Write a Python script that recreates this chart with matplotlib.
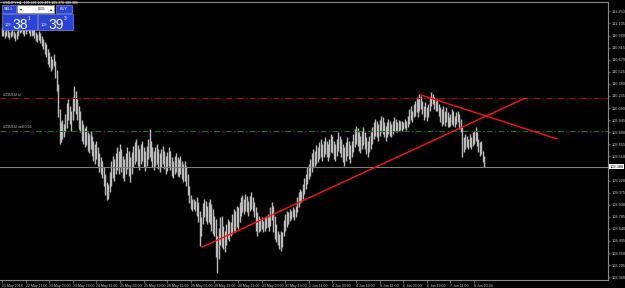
import matplotlib
matplotlib.use('Agg')
import matplotlib.pyplot as plt
from matplotlib.patches import Rectangle

plt.rcParams['font.family'] = ['Liberation Sans', 'DejaVu Sans']

# ---------------- data (USDJPY H1) ----------------
highs = [
    111.06, 111.04, 111.02, 111.05, 111.03, 111.00, 111.02, 111.04, 111.01, 110.99,
    111.02, 111.06, 111.08, 111.10, 111.07, 111.05, 111.09, 111.12, 111.10, 111.06,
    111.04, 111.08, 111.05, 111.00, 110.98, 111.02, 110.99, 110.95, 110.92, 110.88,
    110.86, 110.80, 110.76, 110.72, 110.68, 110.74, 110.66, 110.55, 110.38, 110.08,
    109.92, 109.95, 109.90, 110.02, 110.15, 110.20, 110.12, 110.05, 110.22, 110.35,
    110.30, 110.20, 110.12, 110.05, 109.95, 109.90, 109.85, 109.88, 109.80, 109.78,
    109.82, 109.75, 109.70, 109.66, 109.70, 109.62, 109.55, 109.50, 109.45, 109.38,
    109.30, 109.20, 109.18, 109.32, 109.45, 109.52, 109.48, 109.55, 109.62, 109.58,
    109.66, 109.60, 109.52, 109.48, 109.55, 109.62, 109.58, 109.50, 109.56, 109.64,
    109.68, 109.72, 109.65, 109.60, 109.66, 109.70, 109.62, 109.58, 109.64, 109.72,
    109.84, 109.70, 109.62, 109.58, 109.62, 109.66, 109.60, 109.55, 109.60, 109.64,
    109.58, 109.52, 109.56, 109.62, 109.58, 109.50, 109.46, 109.52, 109.55, 109.50,
    109.48, 109.52, 109.46, 109.42, 109.45, 109.40, 109.30, 109.15, 109.05, 109.00,
    109.00, 108.98, 109.02, 108.96, 108.85, 108.78, 108.95, 109.00, 108.98, 108.92,
    108.96, 109.00, 108.94, 108.88, 108.80, 108.76, 108.55, 108.65, 108.78, 108.80,
    108.68, 108.62, 108.70, 108.76, 108.74, 108.72, 108.82, 108.88, 108.86, 108.92,
    108.90, 108.96, 109.02, 109.05, 109.00, 109.06, 109.03, 108.98, 109.04, 109.08,
    109.02, 108.96, 108.90, 108.84, 108.80, 108.76, 108.78, 108.74, 108.78, 108.80,
    108.82, 108.78, 108.90, 108.96, 108.92, 108.80, 108.70, 108.62, 108.58, 108.62,
    108.60, 108.75, 108.82, 108.86, 108.84, 108.88, 108.86, 108.90, 108.88, 108.92,
    109.02, 109.08, 109.12, 109.10, 109.18, 109.25, 109.30, 109.38, 109.42, 109.48,
    109.55, 109.60, 109.58, 109.65, 109.62, 109.68, 109.72, 109.66, 109.70, 109.74,
    109.70, 109.66, 109.72, 109.78, 109.75, 109.70, 109.66, 109.72, 109.80, 109.76,
    109.72, 109.66, 109.62, 109.68, 109.74, 109.70, 109.65, 109.70, 109.78, 109.84,
    109.88, 109.85, 109.80, 109.76, 109.82, 109.86, 109.80, 109.74, 109.70, 109.76,
    109.80, 109.86, 109.92, 109.96, 109.94, 109.90, 109.95, 110.00, 109.98, 109.92,
    109.88, 109.92, 109.96, 109.94, 109.90, 109.94, 109.98, 109.96, 109.92, 109.95,
    109.93, 109.94, 109.92, 109.96, 109.94, 110.00, 110.08, 110.12, 110.06, 110.14,
    110.18, 110.22, 110.20, 110.26, 110.24, 110.18, 110.12, 110.16, 110.10, 110.14,
    110.22, 110.28, 110.26, 110.22, 110.18, 110.20, 110.14, 110.10, 110.08, 110.12,
    110.06, 110.10, 110.04, 109.98, 110.02, 110.08, 110.05, 110.00, 110.04, 110.06,
    110.02, 109.96, 109.86, 109.74, 109.78, 109.76, 109.72, 109.78, 109.74, 109.80,
    109.82, 109.86, 109.80, 109.72, 109.68, 109.70, 109.58, 109.52,
]
lows = [
    110.96, 110.95, 110.93, 110.96, 110.94, 110.92, 110.94, 110.95, 110.93, 110.90,
    110.92, 110.96, 110.99, 111.00, 110.98, 110.95, 110.98, 111.02, 110.99, 110.96,
    110.95, 110.97, 110.93, 110.90, 110.88, 110.91, 110.87, 110.84, 110.80, 110.74,
    110.70, 110.62, 110.58, 110.54, 110.56, 110.60, 110.45, 110.30, 109.98, 109.66,
    109.68, 109.72, 109.74, 109.80, 109.85, 109.95, 109.90, 109.82, 109.95, 110.05,
    110.02, 109.95, 109.84, 109.80, 109.70, 109.66, 109.62, 109.65, 109.58, 109.55,
    109.60, 109.52, 109.45, 109.42, 109.48, 109.40, 109.32, 109.30, 109.25, 109.15,
    109.05, 108.99, 109.00, 109.08, 109.15, 109.25, 109.22, 109.30, 109.35, 109.30,
    109.38, 109.32, 109.25, 109.22, 109.30, 109.36, 109.28, 109.20, 109.30, 109.38,
    109.42, 109.45, 109.40, 109.35, 109.42, 109.46, 109.38, 109.34, 109.40, 109.48,
    109.50, 109.45, 109.38, 109.35, 109.40, 109.42, 109.36, 109.32, 109.38, 109.42,
    109.36, 109.30, 109.33, 109.40, 109.35, 109.28, 109.25, 109.30, 109.32, 109.28,
    109.26, 109.30, 109.24, 109.20, 109.22, 109.15, 109.05, 108.95, 108.88, 108.85,
    108.88, 108.86, 108.80, 108.72, 108.43, 108.55, 108.70, 108.78, 108.74, 108.70,
    108.72, 108.70, 108.62, 108.58, 108.55, 108.30, 108.11, 108.28, 108.45, 108.42,
    108.40, 108.36, 108.45, 108.52, 108.50, 108.55, 108.58, 108.62, 108.60, 108.66,
    108.64, 108.72, 108.80, 108.84, 108.82, 108.86, 108.84, 108.80, 108.86, 108.88,
    108.85, 108.78, 108.62, 108.55, 108.60, 108.62, 108.64, 108.60, 108.62, 108.65,
    108.66, 108.62, 108.68, 108.75, 108.60, 108.52, 108.48, 108.45, 108.40, 108.38,
    108.42, 108.55, 108.62, 108.66, 108.70, 108.74, 108.76, 108.78, 108.75, 108.78,
    108.84, 108.90, 108.95, 108.96, 109.00, 109.06, 109.12, 109.18, 109.24, 109.28,
    109.32, 109.38, 109.40, 109.42, 109.44, 109.48, 109.50, 109.46, 109.50, 109.54,
    109.50, 109.45, 109.50, 109.56, 109.55, 109.48, 109.46, 109.52, 109.58, 109.55,
    109.50, 109.44, 109.40, 109.46, 109.52, 109.48, 109.43, 109.50, 109.56, 109.62,
    109.66, 109.64, 109.58, 109.55, 109.60, 109.65, 109.60, 109.54, 109.50, 109.56,
    109.60, 109.66, 109.72, 109.76, 109.74, 109.70, 109.75, 109.80, 109.78, 109.74,
    109.70, 109.74, 109.78, 109.76, 109.74, 109.78, 109.82, 109.80, 109.80, 109.82,
    109.83, 109.82, 109.84, 109.85, 109.83, 109.86, 109.90, 109.95, 109.92, 109.98,
    110.00, 110.04, 109.98, 110.06, 110.08, 110.02, 109.95, 109.98, 109.94, 109.98,
    110.05, 110.12, 110.14, 110.08, 110.05, 110.06, 110.00, 109.92, 109.88, 109.90,
    109.88, 109.92, 109.86, 109.86, 109.88, 109.90, 109.88, 109.86, 109.90, 109.92,
    109.84, 109.80, 109.50, 109.56, 109.60, 109.62, 109.60, 109.62, 109.60, 109.64,
    109.66, 109.70, 109.64, 109.56, 109.52, 109.54, 109.44, 109.38,
]

x_labels = ['21 May 2018', '22 May 11:00', '23 May 03:00', '23 May 19:00', '24 May 11:00',
            '25 May 03:00', '25 May 19:00', '28 May 11:00', '29 May 03:00', '29 May 19:00',
            '30 May 11:00', '31 May 03:00', '31 May 19:00', '1 Jun 11:00', '4 Jun 03:00',
            '4 Jun 19:00', '5 Jun 11:00', '6 Jun 03:00', '6 Jun 19:00', '7 Jun 11:00',
            '8 Jun 03:00']
x_label_bars = [0, 16, 32, 48, 64, 80, 96, 112, 128, 144, 160, 176, 192, 208, 224,
                240, 256, 272, 288, 304, 320]

y_ticks = [111.250, 111.105, 110.960, 110.815, 110.670, 110.525, 110.380, 110.235,
           110.090, 109.945, 109.800, 109.655, 109.510, 109.365, 109.220, 109.075,
           108.930, 108.785, 108.640, 108.495, 108.350, 108.205, 108.060]

sl_level = 110.207
entry_level = 109.818
bid = 109.386
sl_text = '#235932 sl'
entry_text = '#235932 sell 0.05'
trend1_bars = [135.6, 354.6]
trend1_prices = [108.42, 110.21]
trend2_bars = [283.9, 376.1]
trend2_prices = [110.247, 109.72]

header = 'USDJPY,H1  109.492 109.497 109.370 109.386'
sell_price = ('109', '38', '1')
buy_price = ('109', '39', '3')
lot = '0.05'

# ---------------- figure ----------------
W, H = 625, 288
fig = plt.figure(figsize=(W / 100, H / 100), dpi=100, facecolor='black')
ax = fig.add_axes([0, 8 / H, 608 / W, 278 / H])
ax.set_facecolor('black')

bars = list(range(len(highs)))
ax.vlines(bars, lows, highs, color='#bcbcbc', lw=1.0)

ax.set_xlim(-1.36, 410.8)
ax.set_ylim(108.026, 111.363)

dashdot = (0, (6, 2.5, 1.2, 2.5))
ax.axhline(sl_level, color='#c00000', lw=0.7, ls=dashdot)
ax.axhline(entry_level, color='#008a00', lw=0.7, ls=dashdot)
ax.axhline(bid, color='#7a7f86', lw=0.8)
ax.text(0.7, sl_level + 0.02, sl_text, fontsize=2.6, color='#c8c8c8', va='bottom', ha='left')
ax.text(0.7, entry_level + 0.02, entry_text, fontsize=2.6, color='#c8c8c8', va='bottom', ha='left')

ax.plot(trend1_bars, trend1_prices, color='#ff1010', lw=1.0)
ax.plot(trend2_bars, trend2_prices, color='#ff1010', lw=1.0)

for s in ['top', 'right', 'bottom']:
    ax.spines[s].set_color('#8a8a8a')
    ax.spines[s].set_linewidth(0.8)
ax.spines['left'].set_visible(False)

ax.yaxis.tick_right()
ax.set_yticks(y_ticks)
# the tick label under the highlighted bid price box is covered in the terminal
ax.set_yticklabels(['' if abs(v - bid) < 0.06 else f'{v:.3f}' for v in y_ticks])
ax.tick_params(axis='y', colors='#8a8a8a', labelcolor='#d0d0d0', labelsize=2.8,
               length=1.5, width=0.5, pad=0.8)
ax.set_xticks(x_label_bars)
ax.set_xticklabels(x_labels, ha='left')
ax.tick_params(axis='x', colors='#8a8a8a', labelcolor='#d0d0d0', labelsize=2.5,
               length=2.0, width=0.5, pad=0.6)

ax.text(1.002, bid, f'{bid:.3f}', transform=ax.get_yaxis_transform(), fontsize=2.8,
        color='black', va='center', ha='left', zorder=10,
        bbox=dict(boxstyle='square,pad=0.15', fc='white', ec='none'))

# ---------------- overlay: header + one-click panel ----------------
ov = fig.add_axes([0, 0, 1, 1])
ov.set_xlim(0, W)
ov.set_ylim(H, 0)
ov.axis('off')
ov.patch.set_alpha(0)

ov.text(3, 2.5, header, fontsize=2.5, color='white', va='center', ha='left')

blue = '#2a44d8'
edge = '#9aa8ff'
ov.add_patch(Rectangle((2, 5), 14, 8, fc=blue, ec=edge, lw=0.4))
ov.text(9, 9, 'SELL', fontsize=2.8, color='white', ha='center', va='center')
ov.add_patch(Rectangle((17, 5), 37, 8, fc='white', ec='#a0a0a0', lw=0.4))
ov.text(21, 9, '▾', fontsize=3, color='black', ha='center', va='center',
        family=['DejaVu Sans'])
ov.text(42, 9, lot, fontsize=2.8, color='black', ha='center', va='center')
ov.text(51, 9, '▴', fontsize=3, color='black', ha='center', va='center',
        family=['DejaVu Sans'])
ov.add_patch(Rectangle((56, 5), 16, 8, fc=blue, ec=edge, lw=0.4))
ov.text(64, 9, 'BUY', fontsize=2.8, color='white', ha='center', va='center')

for x0, parts in ((2, sell_price), (38, buy_price)):
    ov.add_patch(Rectangle((x0, 14), 34.5, 16, fc=blue, ec=edge, lw=0.4))
    ov.text(x0 + 3, 26, parts[0], fontsize=2.8, color='white', ha='left', va='baseline')
    ov.text(x0 + 10.5, 29, parts[1], fontsize=10, color='white', ha='left', va='baseline')
    ov.text(x0 + 26, 20, parts[2], fontsize=3.6, color='white', ha='left', va='baseline')

fig.savefig('out.png', dpi=100, facecolor='black')
